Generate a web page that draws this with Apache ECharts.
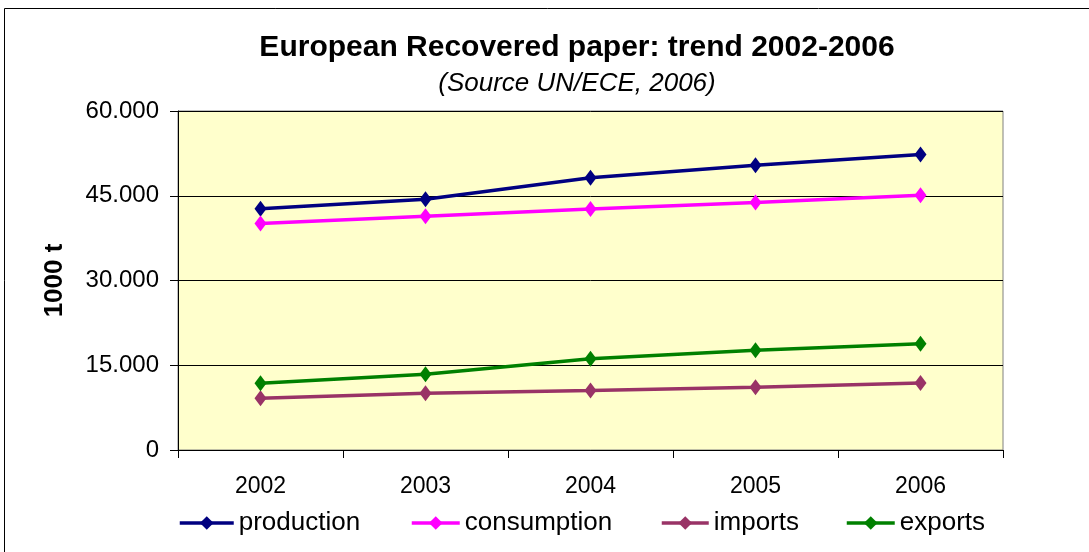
<!DOCTYPE html>
<html>
<head>
<meta charset="utf-8">
<script src="https://cdn.jsdelivr.net/npm/echarts@6/dist/echarts.min.js"></script>
<style>
  html, body { margin: 0; padding: 0; background: #fff; }
  #chart { width: 1089px; height: 552px; }
</style>
</head>
<body>
<div id="chart"></div>
<script>
// Recovered paper in Europe, thousand tonnes
const years = ['2002', '2003', '2004', '2005', '2006'];
const seriesNames = ['production', 'consumption', 'imports', 'exports'];
const production = [42700, 44400, 48200, 50400, 52300];
const consumption = [40100, 41350, 42650, 43800, 45100];
const imports = [9150, 10050, 10550, 11100, 11850];
const exports = [11800, 13400, 16150, 17650, 18800];
const yTicks = [0, 15000, 30000, 45000, 60000];

const colors = ['#000080', '#FF00FF', '#993366', '#008000'];
const legendLeft = [178, 410, 660, 845];
const legendIconW = [54, 48, 47, 48];
const font = 'Arial, "Liberation Sans", sans-serif';

function fmt(v) {
  return String(v).replace(/\B(?=(\d{3})+(?!\d))/g, '.');
}

function line(name, data, color) {
  return {
    name: name,
    type: 'line',
    data: data,
    symbol: 'diamond',
    symbolSize: [12, 16],
    lineStyle: { color: color, width: 3.5 },
    itemStyle: { color: color },
    emphasis: { disabled: true },
    animation: false
  };
}

// one legend block per series so each entry sits at its own spot
const legends = seriesNames.map((n, i) => ({
  left: legendLeft[i],
  top: 510,
  itemWidth: legendIconW[i],
  itemHeight: 17,
  padding: 0,
  lineStyle: { width: 3.5 },
  textStyle: { fontFamily: font, fontSize: 26, color: '#000' },
  data: [n]
}));

const chart = echarts.init(document.getElementById('chart'));
chart.setOption({
  animation: false,
  backgroundColor: '#ffffff',
  graphic: [{
    type: 'rect',
    shape: { x: 4.5, y: 8.5, width: 1100, height: 560 },
    style: { fill: 'none', stroke: '#000', lineWidth: 1 },
    silent: true
  }],
  title: [{
    text: 'European Recovered paper: trend 2002-2006',
    left: 572, top: 28, textAlign: 'center',
    textStyle: { fontFamily: font, fontSize: 30, fontWeight: 'bold', color: '#000' }
  }, {
    text: '(Source UN/ECE, 2006)',
    left: 572, top: 66, textAlign: 'center',
    textStyle: { fontFamily: font, fontSize: 26, fontStyle: 'italic', fontWeight: 'normal', color: '#000' }
  }],
  grid: {
    left: 178, right: 86, top: 111, bottom: 102,
    show: true,
    backgroundColor: '#FFFFCC',
    borderColor: '#808080',
    borderWidth: 1
  },
  legend: legends,
  xAxis: {
    type: 'category',
    data: years,
    boundaryGap: true,
    axisLine: { lineStyle: { color: '#000', width: 1 } },
    axisTick: { show: true, length: 8, lineStyle: { color: '#000' } },
    axisLabel: { fontFamily: font, fontSize: 23, color: '#000', margin: 25 },
    splitLine: { show: false }
  },
  yAxis: {
    type: 'value',
    min: yTicks[0],
    max: yTicks[yTicks.length - 1],
    interval: yTicks[1] - yTicks[0],
    name: '1000 t',
    nameLocation: 'middle',
    nameGap: 110,
    nameRotate: 90,
    nameTextStyle: { fontFamily: font, fontSize: 26, fontWeight: 'bold', color: '#000' },
    axisLine: { show: true, lineStyle: { color: '#000', width: 1 } },
    axisTick: { show: true, length: 8, lineStyle: { color: '#000' } },
    axisLabel: { fontFamily: font, fontSize: 24, color: '#000', margin: 19, formatter: fmt },
    splitLine: { show: true, lineStyle: { color: '#000', width: 1 } }
  },
  series: [
    line(seriesNames[0], production, colors[0]),
    line(seriesNames[1], consumption, colors[1]),
    line(seriesNames[2], imports, colors[2]),
    line(seriesNames[3], exports, colors[3])
  ]
});
</script>
</body>
</html>
